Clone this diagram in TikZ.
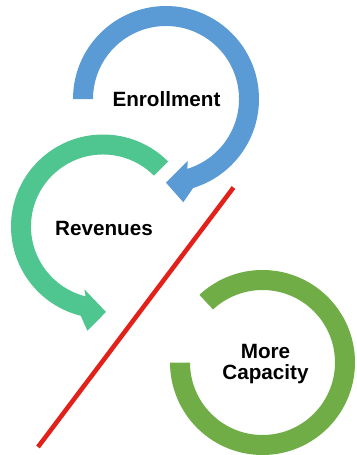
\documentclass[tikz,border=0pt]{standalone}
\usepackage{fontspec}
\setmainfont{Liberation Sans}
\definecolor{arrblue}{HTML}{5B9BD5}
\definecolor{arrteal}{HTML}{4FC58F}
\definecolor{ringgreen}{HTML}{70AD47}
\definecolor{slashred}{HTML}{E3211B}
\tikzset{
  lbl/.style={font=\fontsize{15.5}{16.3}\selectfont\bfseries, text=black, inner sep=0pt, anchor=base},
}
\begin{document}
\begin{tikzpicture}[x=0.75pt,y=0.75pt]
\useasboundingbox (0,0) rectangle (357,455);
% blue circular arrow (Enrollment)
\begin{scope}[shift={(166,356)}]
  \fill[arrblue] (180:93) arc[start angle=180,end angle=-73,radius=93]
    -- (-80.5:104.7) -- (-90:83.7) -- (-70.7:65.7) -- (-73:73)
    arc[start angle=-73,end angle=180,radius=73] -- cycle;
\end{scope}
% teal circular arrow (Revenues)
\begin{scope}[shift={(103,228.5)}]
  \fill[arrteal] (45:92) arc[start angle=45,end angle=256,radius=92]
    -- (261.5:105.5) -- (272:85.5) -- (253.5:65.5) -- (256:72)
    arc[start angle=256,end angle=45,radius=72] -- cycle;
\end{scope}
% green ring (More Capacity)
\begin{scope}[shift={(262.5,92.5)}]
  \fill[ringgreen] (133:92.5) arc[start angle=133,end angle=-180,radius=92.5]
    -- (-180:72.5) arc[start angle=-180,end angle=133,radius=72.5] -- cycle;
\end{scope}
% red slash
\coordinate (rtop) at (233.5,267.5);
\coordinate (rbot) at (38,8);
\draw[slashred, line width=3.4pt] (rtop) -- (rbot);
% labels
\node[lbl] (enr) at (166.5,348.3) {Enrollment};
\node[lbl] (rev) at (104,219.3) {Revenues};
\node[lbl] (more) at (265.5,96.7) {More};
\node[lbl] (cap) at (265.5,75) {Capacity};
\end{tikzpicture}
\end{document}
